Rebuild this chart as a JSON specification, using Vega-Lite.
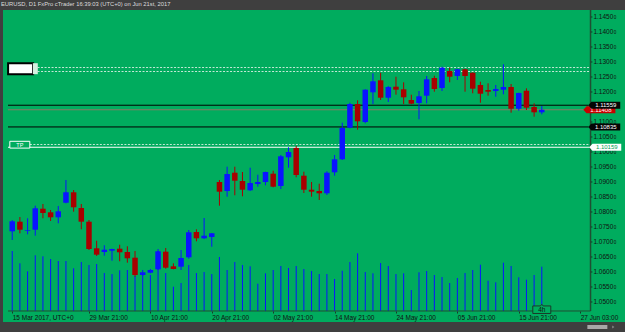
{
  "$schema": "https://vega.github.io/schema/vega-lite/v6.json",
  "width": 622,
  "height": 312,
  "autosize": {"type": "none"},
  "padding": {"left": 3, "top": 10, "right": 0, "bottom": 10},
  "background": "#3f3f3f",
  "title": {"text": "EURUSD, D1 FxPro cTrader 16:39:03 (UTC+0) on Jun 21st, 2017", "anchor": "start", "frame": "group", "font": "Liberation Sans", "fontSize": 5.8, "fontWeight": "normal", "color": "#dcdcdc", "offset": 2.5, "dx": -2},
  "config": {
    "view": {"fill": "#00ac5e", "stroke": null},
    "axis": {"grid": false, "domain": false, "labelFont": "Liberation Sans", "labelFontSize": 6.5, "labelColor": "#111111", "tickColor": "#1a3a2a", "tickSize": 2, "labelOverlap": false, "labelFlush": false}
  },
  "datasets": {
    "candles": [
      {"i":0,"o":1.07357,"h":1.07733,"l":1.07067,"c":1.07690,"v":120000},
      {"i":1,"o":1.07677,"h":1.07833,"l":1.07290,"c":1.07410,"v":95400},
      {"i":2,"o":1.07377,"h":1.07790,"l":1.07257,"c":1.07400,"v":79400},
      {"i":3,"o":1.07410,"h":1.08210,"l":1.07210,"c":1.08123,"v":111400},
      {"i":4,"o":1.08110,"h":1.08267,"l":1.07790,"c":1.07967,"v":109400},
      {"i":5,"o":1.07990,"h":1.08067,"l":1.07700,"c":1.07823,"v":104000},
      {"i":6,"o":1.07823,"h":1.08200,"l":1.07623,"c":1.08023,"v":100000},
      {"i":7,"o":1.08310,"h":1.09067,"l":1.08290,"c":1.08657,"v":100000},
      {"i":8,"o":1.08657,"h":1.08733,"l":1.08010,"c":1.08157,"v":85400},
      {"i":9,"o":1.08133,"h":1.08267,"l":1.07423,"c":1.07677,"v":98000},
      {"i":10,"o":1.07677,"h":1.07733,"l":1.06733,"c":1.06767,"v":92000},
      {"i":11,"o":1.06790,"h":1.07043,"l":1.06533,"c":1.06577,"v":94000},
      {"i":12,"o":1.06667,"h":1.06890,"l":1.06543,"c":1.06743,"v":76000},
      {"i":13,"o":1.06710,"h":1.06777,"l":1.06377,"c":1.06767,"v":74000},
      {"i":14,"o":1.06777,"h":1.06910,"l":1.06357,"c":1.06657,"v":81400},
      {"i":15,"o":1.06667,"h":1.06857,"l":1.06310,"c":1.06457,"v":82000},
      {"i":16,"o":1.06477,"h":1.06700,"l":1.05843,"c":1.05900,"v":70000},
      {"i":17,"o":1.05900,"h":1.06067,"l":1.05877,"c":1.05990,"v":75400},
      {"i":18,"o":1.05977,"h":1.06100,"l":1.05957,"c":1.06067,"v":72000},
      {"i":19,"o":1.06090,"h":1.06767,"l":1.06067,"c":1.06690,"v":120000},
      {"i":20,"o":1.06677,"h":1.06800,"l":1.06110,"c":1.06143,"v":76000},
      {"i":21,"o":1.06190,"h":1.06290,"l":1.06090,"c":1.06100,"v":48600},
      {"i":22,"o":1.06177,"h":1.06733,"l":1.06067,"c":1.06467,"v":56000},
      {"i":23,"o":1.06490,"h":1.07400,"l":1.06443,"c":1.07323,"v":92000},
      {"i":24,"o":1.07333,"h":1.07423,"l":1.07023,"c":1.07123,"v":76000},
      {"i":25,"o":1.07123,"h":1.07800,"l":1.07100,"c":1.07210,"v":78000},
      {"i":26,"o":1.07167,"h":1.07300,"l":1.06843,"c":1.07290,"v":74000},
      {"i":27,"o":1.09000,"h":1.09067,"l":1.08210,"c":1.08677,"v":108000},
      {"i":28,"o":1.08700,"h":1.09510,"l":1.08510,"c":1.09267,"v":82000},
      {"i":29,"o":1.09310,"h":1.09510,"l":1.08557,"c":1.09043,"v":98000},
      {"i":30,"o":1.09033,"h":1.09333,"l":1.08523,"c":1.08743,"v":92000},
      {"i":31,"o":1.08723,"h":1.09477,"l":1.08700,"c":1.08967,"v":89400},
      {"i":32,"o":1.08933,"h":1.09243,"l":1.08843,"c":1.09000,"v":54600},
      {"i":33,"o":1.09000,"h":1.09343,"l":1.08890,"c":1.09333,"v":75400},
      {"i":34,"o":1.09277,"h":1.09377,"l":1.08823,"c":1.08843,"v":82000},
      {"i":35,"o":1.08867,"h":1.09900,"l":1.08767,"c":1.09857,"v":90000},
      {"i":36,"o":1.09823,"h":1.10157,"l":1.09477,"c":1.10000,"v":86000},
      {"i":37,"o":1.10133,"h":1.10200,"l":1.09157,"c":1.09233,"v":90000},
      {"i":38,"o":1.09210,"h":1.09343,"l":1.08633,"c":1.08743,"v":84000},
      {"i":39,"o":1.08743,"h":1.09000,"l":1.08510,"c":1.08677,"v":80000},
      {"i":40,"o":1.08700,"h":1.08943,"l":1.08400,"c":1.08623,"v":74000},
      {"i":41,"o":1.08623,"h":1.09357,"l":1.08567,"c":1.09310,"v":74000},
      {"i":42,"o":1.09323,"h":1.09900,"l":1.09210,"c":1.09757,"v":64000},
      {"i":43,"o":1.09757,"h":1.10977,"l":1.09733,"c":1.10800,"v":80600},
      {"i":44,"o":1.10810,"h":1.11643,"l":1.10790,"c":1.11600,"v":98000},
      {"i":45,"o":1.11600,"h":1.11723,"l":1.10743,"c":1.11023,"v":115400},
      {"i":46,"o":1.11000,"h":1.12090,"l":1.10957,"c":1.12077,"v":78000},
      {"i":47,"o":1.11990,"h":1.12623,"l":1.11600,"c":1.12357,"v":75400},
      {"i":48,"o":1.12390,"h":1.12643,"l":1.11733,"c":1.11810,"v":96000},
      {"i":49,"o":1.11810,"h":1.12200,"l":1.11667,"c":1.12167,"v":90000},
      {"i":50,"o":1.12177,"h":1.12510,"l":1.11910,"c":1.12077,"v":74000},
      {"i":51,"o":1.12090,"h":1.12323,"l":1.11600,"c":1.11823,"v":75400},
      {"i":52,"o":1.11733,"h":1.11910,"l":1.11590,"c":1.11610,"v":42000},
      {"i":53,"o":1.11633,"h":1.12033,"l":1.11090,"c":1.11857,"v":77400},
      {"i":54,"o":1.11877,"h":1.12533,"l":1.11623,"c":1.12423,"v":80000},
      {"i":55,"o":1.12467,"h":1.12543,"l":1.12010,"c":1.12100,"v":72000},
      {"i":56,"o":1.12133,"h":1.12843,"l":1.12033,"c":1.12810,"v":68000},
      {"i":57,"o":1.12700,"h":1.12810,"l":1.12323,"c":1.12510,"v":56000},
      {"i":58,"o":1.12533,"h":1.12767,"l":1.12400,"c":1.12757,"v":66000},
      {"i":59,"o":1.12757,"h":1.12777,"l":1.12010,"c":1.12533,"v":76000},
      {"i":60,"o":1.12643,"h":1.12653,"l":1.11957,"c":1.12110,"v":82000},
      {"i":61,"o":1.12233,"h":1.12343,"l":1.11643,"c":1.11943,"v":92600},
      {"i":62,"o":1.12067,"h":1.12290,"l":1.11877,"c":1.12010,"v":60600},
      {"i":63,"o":1.12033,"h":1.12233,"l":1.11843,"c":1.12100,"v":57400},
      {"i":64,"o":1.12077,"h":1.12923,"l":1.11923,"c":1.12167,"v":96600},
      {"i":65,"o":1.12167,"h":1.12267,"l":1.11310,"c":1.11443,"v":90000},
      {"i":66,"o":1.11443,"h":1.11977,"l":1.11377,"c":1.11967,"v":67400},
      {"i":67,"o":1.12043,"h":1.12123,"l":1.11400,"c":1.11477,"v":62600},
      {"i":68,"o":1.11500,"h":1.11623,"l":1.11177,"c":1.11323,"v":72000},
      {"i":69,"o":1.11323,"h":1.11533,"l":1.11257,"c":1.11408,"v":88600}
    ],
    "priceTicks": [
      {"t":1.050},{"t":1.055},{"t":1.060},{"t":1.065},{"t":1.070},{"t":1.075},{"t":1.080},{"t":1.085},{"t":1.090},{"t":1.095},
      {"t":1.100},{"t":1.105},{"t":1.110},{"t":1.120},{"t":1.125},{"t":1.130},{"t":1.135},{"t":1.140},{"t":1.145}
    ]
  },
  "layer": [
    {
      "data": {"name": "candles"},
      "mark": {"type": "rule", "color": "#0a14ff", "strokeWidth": 1},
      "encoding": {
        "x": {"field": "i", "type": "quantitative", "title": null, "scale": {"domain": [-0.551, 79.19], "nice": false, "zero": false}},
        "y": {"field": "v", "type": "quantitative", "title": null, "axis": null, "scale": {"domain": [-22000, 602000], "nice": false, "zero": false}},
        "y2": {"datum": 0}
      }
    },
    {
      "layer": [
        {
          "data": {"values": [{"p": 1.11559}, {"p": 1.10835}]},
          "mark": {"type": "rule", "color": "#000000", "strokeWidth": 1},
          "encoding": {
            "x": {"datum": -0.551, "type": "quantitative", "title": null, "scale": {"domain": [-0.551, 79.19], "nice": false, "zero": false},
              "axis": {"orient": "bottom", "offset": -11, "values": [0, 10, 18, 26, 34, 42, 50, 58, 66, 74], "labelAlign": "left", "labelBaseline": "top", "labelPadding": 1, "labelOverlap": false, "labelFlush": false,
                "labelExpr": "datum.value == 0 ? '15 Mar 2017, UTC+0' : datum.value == 10 ? '29 Mar 21:00' : datum.value == 18 ? '10 Apr 21:00' : datum.value == 26 ? '20 Apr 21:00' : datum.value == 34 ? '02 May 21:00' : datum.value == 42 ? '14 May 21:00' : datum.value == 50 ? '24 May 21:00' : datum.value == 58 ? '05 Jun 21:00' : datum.value == 66 ? '15 Jun 21:00' : '27 Jun 03:00'"}},
            "x2": {"datum": 75.09},
            "y": {"field": "p", "type": "quantitative", "title": null, "axis": null, "scale": {"domain": [1.043333, 1.147333], "nice": false, "zero": false}}
          }
        },
        {
          "data": {"values": [{"p": 1.11408}]},
          "mark": {"type": "rule", "color": "#8a7a66", "strokeWidth": 1},
          "encoding": {
            "x": {"datum": -0.551, "type": "quantitative", "title": null, "scale": {"domain": [-0.551, 79.19], "nice": false, "zero": false}},
            "x2": {"datum": 75.0},
            "y": {"field": "p", "type": "quantitative", "title": null, "scale": {"domain": [1.043333, 1.147333], "nice": false, "zero": false}}
          }
        },
        {
          "data": {"values": [{"p": 1.10159}]},
          "mark": {"type": "rule", "color": "#ffffff", "strokeWidth": 1.2},
          "encoding": {
            "x": {"datum": -0.551, "type": "quantitative", "title": null, "scale": {"domain": [-0.551, 79.19], "nice": false, "zero": false}},
            "x2": {"datum": 75.35},
            "y": {"field": "p", "type": "quantitative", "title": null, "scale": {"domain": [1.043333, 1.147333], "nice": false, "zero": false}}
          }
        },
        {
          "data": {"values": [{"p": 1.12816}, {"p": 1.12683}]},
          "mark": {"type": "rule", "color": "#e8f5ec", "strokeWidth": 1, "strokeDash": [2, 1.5], "opacity": 0.85},
          "encoding": {
            "x": {"datum": 3.3, "type": "quantitative", "title": null, "scale": {"domain": [-0.551, 79.19], "nice": false, "zero": false}},
            "x2": {"datum": 75.35},
            "y": {"field": "p", "type": "quantitative", "title": null, "scale": {"domain": [1.043333, 1.147333], "nice": false, "zero": false}}
          }
        },
        {
          "data": {"values": [{"p": 1.1025}]},
          "mark": {"type": "rule", "color": "#e8f5ec", "strokeWidth": 1, "strokeDash": [2, 1.5], "opacity": 0.85},
          "encoding": {
            "x": {"datum": 2.3, "type": "quantitative", "title": null, "scale": {"domain": [-0.551, 79.19], "nice": false, "zero": false}},
            "x2": {"datum": 75.35},
            "y": {"field": "p", "type": "quantitative", "title": null, "scale": {"domain": [1.043333, 1.147333], "nice": false, "zero": false}}
          }
        },
        {
          "data": {"name": "candles"},
          "mark": {"type": "rule", "strokeWidth": 1},
          "encoding": {
            "x": {"field": "i", "type": "quantitative", "title": null, "scale": {"domain": [-0.551, 79.19], "nice": false, "zero": false}},
            "y": {"field": "l", "type": "quantitative", "title": null, "scale": {"domain": [1.043333, 1.147333], "nice": false, "zero": false}},
            "y2": {"field": "h"},
            "color": {"condition": {"test": "datum.c >= datum.o", "value": "#0a14ff"}, "value": "#a80000"}
          }
        },
        {
          "data": {"name": "candles"},
          "mark": {"type": "bar", "size": 5.5},
          "encoding": {
            "x": {"field": "i", "type": "quantitative", "title": null, "scale": {"domain": [-0.551, 79.19], "nice": false, "zero": false}},
            "y": {"field": "o", "type": "quantitative", "title": null, "scale": {"domain": [1.043333, 1.147333], "nice": false, "zero": false}},
            "y2": {"field": "c"},
            "color": {"condition": {"test": "datum.c >= datum.o", "value": "#0a14ff"}, "value": "#a80000"}
          }
        },
        {
          "data": {"values": [{"a": 1}]},
          "mark": {"type": "rule", "color": "#1f4f33", "strokeWidth": 1.5},
          "encoding": {
            "x": {"datum": 75.35, "type": "quantitative", "title": null, "scale": {"domain": [-0.551, 79.19], "nice": false, "zero": false}},
            "y": {"datum": 1.047, "type": "quantitative", "title": null, "scale": {"domain": [1.043333, 1.147333], "nice": false, "zero": false}},
            "y2": {"datum": 1.147333}
          }
        },
        {
          "data": {"values": [{"a": 1}]},
          "mark": {"type": "rule", "color": "#1f4f33", "strokeWidth": 1},
          "encoding": {
            "x": {"datum": -0.551, "type": "quantitative", "title": null, "scale": {"domain": [-0.551, 79.19], "nice": false, "zero": false}},
            "x2": {"datum": 75.35},
            "y": {"datum": 1.047, "type": "quantitative", "title": null, "scale": {"domain": [1.043333, 1.147333], "nice": false, "zero": false}}
          }
        },
        {
          "data": {"name": "priceTicks"},
          "mark": {"type": "rule", "color": "#1a3a2a", "strokeWidth": 1},
          "encoding": {
            "x": {"datum": 75.38, "type": "quantitative", "title": null, "scale": {"domain": [-0.551, 79.19], "nice": false, "zero": false}},
            "x2": {"datum": 75.6},
            "y": {"field": "t", "type": "quantitative", "title": null, "scale": {"domain": [1.043333, 1.147333], "nice": false, "zero": false}}
          }
        },
        {
          "data": {"name": "priceTicks"},
          "mark": {"type": "text", "color": "#111111", "font": "Liberation Sans", "fontSize": 6.5, "align": "left", "baseline": "middle"},
          "encoding": {
            "x": {"datum": 75.73, "type": "quantitative", "title": null, "scale": {"domain": [-0.551, 79.19], "nice": false, "zero": false}},
            "y": {"field": "t", "type": "quantitative", "title": null, "scale": {"domain": [1.043333, 1.147333], "nice": false, "zero": false}},
            "text": {"field": "t", "type": "quantitative", "format": ".4f"}
          }
        },
        {
          "data": {"name": "priceTicks"},
          "mark": {"type": "text", "color": "#111111", "font": "Liberation Sans", "fontSize": 4.6, "align": "left", "baseline": "middle", "dx": 20.2, "dy": 0.8},
          "encoding": {
            "x": {"datum": 75.73, "type": "quantitative", "title": null, "scale": {"domain": [-0.551, 79.19], "nice": false, "zero": false}},
            "y": {"field": "t", "type": "quantitative", "title": null, "scale": {"domain": [1.043333, 1.147333], "nice": false, "zero": false}},
            "text": {"value": "0"}
          }
        },
        {
          "data": {"values": [{"p": 1.11408, "label": "1.11408"}]},
          "layer": [
            {"mark": {"type": "point", "shape": "M -1 0 L -0.8 -0.22 L 1 -0.22 L 1 0.22 L -0.8 0.22 Z", "size": 1024, "filled": true, "color": "#c80000", "opacity": 1}},
            {"mark": {"type": "text", "color": "#ffffff", "font": "Liberation Sans", "fontSize": 6, "dx": 1.5, "align": "center", "baseline": "middle"}, "encoding": {"text": {"field": "label"}}}
          ],
          "encoding": {
            "x": {"datum": 76.5, "type": "quantitative", "title": null, "scale": {"domain": [-0.551, 79.19], "nice": false, "zero": false}},
            "y": {"field": "p", "type": "quantitative", "title": null, "scale": {"domain": [1.043333, 1.147333], "nice": false, "zero": false}}
          }
        },
        {
          "data": {"values": [{"p": 1.11559, "label": "1.11559"}, {"p": 1.10835, "label": "1.10835"}]},
          "layer": [
            {"mark": {"type": "point", "shape": "M -1 0 L -0.8 -0.22 L 1 -0.22 L 1 0.22 L -0.8 0.22 Z", "size": 1024, "filled": true, "color": "#050505", "opacity": 1}},
            {"mark": {"type": "text", "color": "#ffffff", "font": "Liberation Sans", "fontSize": 6, "dx": 1.5, "align": "center", "baseline": "middle"}, "encoding": {"text": {"field": "label"}}}
          ],
          "encoding": {
            "x": {"datum": 77.14, "type": "quantitative", "title": null, "scale": {"domain": [-0.551, 79.19], "nice": false, "zero": false}},
            "y": {"field": "p", "type": "quantitative", "title": null, "scale": {"domain": [1.043333, 1.147333], "nice": false, "zero": false}}
          }
        },
        {
          "data": {"values": [{"p": 1.10159, "label": "1.10159"}]},
          "layer": [
            {"mark": {"type": "point", "shape": "M -1 0 L -0.8 -0.22 L 1 -0.22 L 1 0.22 L -0.8 0.22 Z", "size": 1024, "filled": true, "color": "#ffffff", "opacity": 1}},
            {"mark": {"type": "text", "color": "#00a057", "font": "Liberation Sans", "fontSize": 6, "dx": 1.5, "align": "center", "baseline": "middle"}, "encoding": {"text": {"field": "label"}}}
          ],
          "encoding": {
            "x": {"datum": 77.27, "type": "quantitative", "title": null, "scale": {"domain": [-0.551, 79.19], "nice": false, "zero": false}},
            "y": {"field": "p", "type": "quantitative", "title": null, "scale": {"domain": [1.043333, 1.147333], "nice": false, "zero": false}}
          }
        },
        {
          "data": {"values": [{"p": 1.12777}]},
          "mark": {"type": "point", "shape": "M -1 -0.44 L 1 -0.44 L 1 0.44 L -1 0.44 Z", "size": 625, "filled": true, "fill": "#ffffff", "stroke": "#000000", "strokeWidth": 2, "opacity": 1},
          "encoding": {
            "x": {"datum": 1.09, "type": "quantitative", "title": null, "scale": {"domain": [-0.551, 79.19], "nice": false, "zero": false}},
            "y": {"field": "p", "type": "quantitative", "title": null, "scale": {"domain": [1.043333, 1.147333], "nice": false, "zero": false}}
          }
        },
        {
          "data": {"values": [{"p": 1.12777}]},
          "mark": {"type": "point", "shape": "M -0.45 -1 L 0.45 -1 L 0.45 1 L -0.45 1 Z", "size": 121, "filled": true, "fill": "#d6efe0", "strokeWidth": 0, "opacity": 1},
          "encoding": {
            "x": {"datum": 3.01, "type": "quantitative", "title": null, "scale": {"domain": [-0.551, 79.19], "nice": false, "zero": false}},
            "y": {"field": "p", "type": "quantitative", "title": null, "scale": {"domain": [1.043333, 1.147333], "nice": false, "zero": false}}
          }
        },
        {
          "data": {"values": [{"p": 1.10243, "label": "TP"}]},
          "layer": [
            {"mark": {"type": "point", "shape": "M -1 -0.34 L 1 -0.34 L 1 0.34 L -1 0.34 Z", "size": 400, "filled": true, "fill": "#00ac5e", "stroke": "#ffffff", "strokeWidth": 1, "opacity": 1}},
            {"mark": {"type": "text", "color": "#ffffff", "font": "Liberation Sans", "fontSize": 5.5, "align": "center", "baseline": "middle"}, "encoding": {"text": {"field": "label"}}}
          ],
          "encoding": {
            "x": {"datum": 0.99, "type": "quantitative", "title": null, "scale": {"domain": [-0.551, 79.19], "nice": false, "zero": false}},
            "y": {"field": "p", "type": "quantitative", "title": null, "scale": {"domain": [1.043333, 1.147333], "nice": false, "zero": false}}
          }
        },
        {
          "data": {"values": [{"p": 1.04743, "label": "4h"}]},
          "layer": [
            {"mark": {"type": "point", "shape": "M -1 -0.42 L -0.15 -0.42 L 0 -0.6 L 0.15 -0.42 L 1 -0.42 L 1 0.42 L -1 0.42 Z", "size": 324, "filled": true, "fill": "#00ac5e", "stroke": "#1a3a2a", "strokeWidth": 1, "opacity": 1}},
            {"mark": {"type": "text", "color": "#111111", "font": "Liberation Sans", "fontSize": 6.5, "align": "center", "baseline": "middle"}, "encoding": {"text": {"field": "label"}}}
          ],
          "encoding": {
            "x": {"datum": 69.0, "type": "quantitative", "title": null, "scale": {"domain": [-0.551, 79.19], "nice": false, "zero": false}},
            "y": {"field": "p", "type": "quantitative", "title": null, "scale": {"domain": [1.043333, 1.147333], "nice": false, "zero": false}}
          }
        },
        {
          "data": {"values": [{"p": 1.04167}]},
          "mark": {"type": "point", "shape": "M -1 -0.2 L 1 -0.2 L 1 0.2 L -1 0.2 Z", "size": 400, "filled": true, "fill": "#a8a8a8", "strokeWidth": 0, "opacity": 1, "clip": false},
          "encoding": {
            "x": {"datum": 76.24, "type": "quantitative", "title": null, "scale": {"domain": [-0.551, 79.19], "nice": false, "zero": false}},
            "y": {"field": "p", "type": "quantitative", "title": null, "scale": {"domain": [1.043333, 1.147333], "nice": false, "zero": false}}
          }
        },
        {
          "data": {"values": [{"p": 1.04167}]},
          "mark": {"type": "point", "shape": "M -0.6 -1 L 0.8 0 L -0.6 1 Z", "size": 9, "filled": true, "fill": "#8c8c8c", "strokeWidth": 0, "opacity": 1, "clip": false},
          "encoding": {
            "x": {"datum": 78.3, "type": "quantitative", "title": null, "scale": {"domain": [-0.551, 79.19], "nice": false, "zero": false}},
            "y": {"field": "p", "type": "quantitative", "title": null, "scale": {"domain": [1.043333, 1.147333], "nice": false, "zero": false}}
          }
        }
      ]
    }
  ],
  "resolve": {"scale": {"y": "independent"}}
}
